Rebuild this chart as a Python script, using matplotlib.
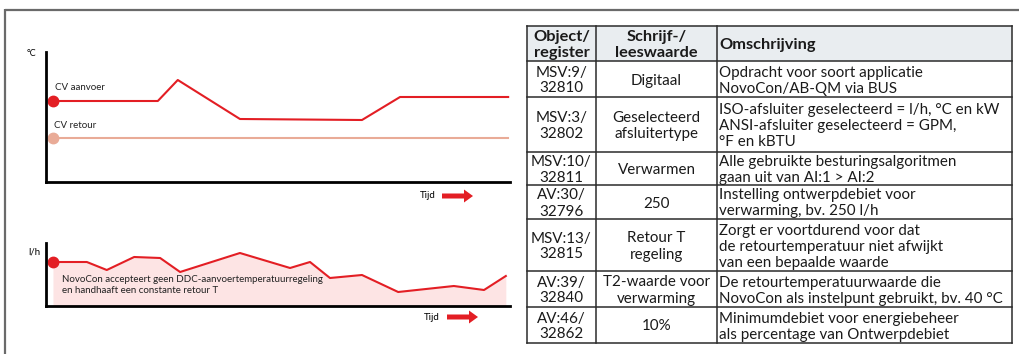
import matplotlib.pyplot as plt
from matplotlib.patches import Rectangle, FancyArrow

plt.rcParams['font.family'] = ['Lato', 'DejaVu Sans']

RED = '#e31e24'
SALMON = '#e9ab97'
PINK = '#fde4e4'
GRID = '#2b2b2b'

# top chart: supply / return temperature over time
temp_time = [1.5, 24.1, 28.4, 41.8, 68.1, 76.3, 99.6]
aanvoer = [70.5, 70.5, 81, 61.5, 61, 72.5, 72.5]
retour_time = [1.5, 99.6]
retour = [52, 52]

# bottom chart: flow over time
flow_time = [1.5, 8.8, 13.1, 19, 24.6, 28.9, 41.8, 52.6, 56.9, 61.2,
             68.1, 75.9, 87.9, 94.4, 99.1]
flow = [220, 220, 180, 245, 240, 170, 265, 190, 220, 140,
        155, 70, 100, 80, 150]

# register table
col_headers = ['Object/\nregister', 'Schrijf-/\nleeswaarde', 'Omschrijving']
objects = ['MSV:9/\n32810', 'MSV:3/\n32802', 'MSV:10/\n32811', 'AV:30/\n32796',
           'MSV:13/\n32815', 'AV:39/\n32840', 'AV:46/\n32862']
values = ['Digitaal', 'Geselecteerd\nafsluitertype', 'Verwarmen', '250',
          'Retour T\nregeling', 'T2-waarde voor\nverwarming', '10%']
descriptions = [
    'Opdracht voor soort applicatie\nNovoCon/AB-QM via BUS',
    'ISO-afsluiter geselecteerd = l/h, °C en kW\nANSI-afsluiter geselecteerd = GPM,\n°F en kBTU',
    'Alle gebruikte besturingsalgoritmen\ngaan uit van AI:1 > AI:2',
    'Instelling ontwerpdebiet voor\nverwarming, bv. 250 l/h',
    'Zorgt er voortdurend voor dat\nde retourtemperatuur niet afwijkt\nvan een bepaalde waarde',
    'De retourtemperatuurwaarde die\nNovoCon als instelpunt gebruikt, bv. 40 °C',
    'Minimumdebiet voor energiebeheer\nals percentage van Ontwerpdebiet',
]

W, H = 1019, 354
fig = plt.figure(figsize=(W / 100, H / 100), dpi=100)

# pixel-space canvas for frame, table and arrows
base = fig.add_axes([0, 0, 1, 1])
base.set_xlim(0, W)
base.set_ylim(H, 0)
base.axis('off')

base.plot([5, W], [9.5, 9.5], color='#6a6a6a', lw=1.6, solid_capstyle='butt')
base.plot([5.5, 5.5], [9, H], color='#6a6a6a', lw=1.6, solid_capstyle='butt')


def chart_axes(left, top, right, bottom):
    ax = fig.add_axes([left / W, 1 - bottom / H, (right - left) / W, (bottom - top) / H])
    ax.patch.set_alpha(0)
    for s in ('top', 'right'):
        ax.spines[s].set_visible(False)
    for s in ('left', 'bottom'):
        ax.spines[s].set_linewidth(2.0)
        ax.spines[s].set_color('black')
    ax.set_xticks([])
    ax.set_yticks([])
    ax.set_xlim(0, 100)
    return ax


# temperature chart
ax1 = chart_axes(46, 52, 510, 182)
ax1.set_ylim(30, 95)
ax1.plot(retour_time, retour, color=SALMON, lw=1.5)
ax1.plot(temp_time, aanvoer, color=RED, lw=1.5)
ax1.plot(retour_time[0], retour[0], 'o', color=SALMON, ms=7.5, clip_on=False)
ax1.plot(temp_time[0], aanvoer[0], 'o', color=RED, ms=7.5, clip_on=False)
ax1.annotate('CV aanvoer', (temp_time[0], aanvoer[0]), xytext=(2, 14),
             textcoords='offset pixels', fontsize=7, va='center', color='#222')
ax1.annotate('CV retour', (retour_time[0], retour[0]), xytext=(1, 12),
             textcoords='offset pixels', fontsize=7, va='center', color='#222')

# flow chart
ax2 = chart_axes(46, 243, 510, 306)
ax2.set_ylim(0, 315)
ax2.fill_between(flow_time, flow, 0, color=PINK, lw=0)
ax2.plot(flow_time, flow, color=RED, lw=1.5)
ax2.plot(flow_time[0], flow[0], 'o', color=RED, ms=7.5, clip_on=False)
ax2.text(0.035, 0.33, 'NovoCon accepteert geen DDC-aanvoertemperatuurregeling\n'
         'en handhaaft een constante retour T', transform=ax2.transAxes,
         fontsize=7, va='center', linespacing=1.35, color='#222')

# axis labels and time arrows
base.text(27, 53, '°C', fontsize=6.5, va='center')
base.text(28, 252, 'l/h', fontsize=7, va='center')
base.text(428, 196, 'Tijd', fontsize=7, ha='center', va='center')
base.text(432, 318, 'Tijd', fontsize=7, ha='center', va='center')
for x0, y0 in [(442, 196), (447, 317)]:
    base.add_patch(FancyArrow(x0, y0, 31, 0, width=5, head_width=13, head_length=9,
                              length_includes_head=True, color=RED, lw=0))

# table
col_edges = [527, 596, 717, 1012]
row_edges = [26, 61, 97, 152, 185, 219, 271, 307, 343]
line_step = 16

base.add_patch(Rectangle((col_edges[0], row_edges[0]), col_edges[-1] - col_edges[0],
                         row_edges[1] - row_edges[0], color='#e9edf0', lw=0))
for y in row_edges:
    base.plot([col_edges[0], col_edges[-1]], [y, y], color=GRID, lw=1.1)
for x in col_edges:
    base.plot([x, x], [row_edges[0], row_edges[-1]], color=GRID, lw=1.1)


def cell_text(text, col, row, bold=False, left=False):
    lines = text.split('\n')
    yc = (row_edges[row] + row_edges[row + 1]) / 2
    if left:
        x, ha = col_edges[col] + 2.5, 'left'
    else:
        x, ha = (col_edges[col] + col_edges[col + 1]) / 2, 'center'
    size = 11.8 if bold else 10.9
    for i, line in enumerate(lines):
        y = yc + (i - (len(lines) - 1) / 2) * line_step + 5.5
        base.text(x, y, line, ha=ha, va='baseline', fontsize=size,
                  fontweight='bold' if bold else 'normal', color='#1a1a1a')


for c, h in enumerate(col_headers):
    cell_text(h, c, 0, bold=True, left=(c == 2))
for r in range(len(objects)):
    cell_text(objects[r], 0, r + 1)
    cell_text(values[r], 1, r + 1)
    cell_text(descriptions[r], 2, r + 1, left=True)

fig.savefig('out.png', dpi=100)
